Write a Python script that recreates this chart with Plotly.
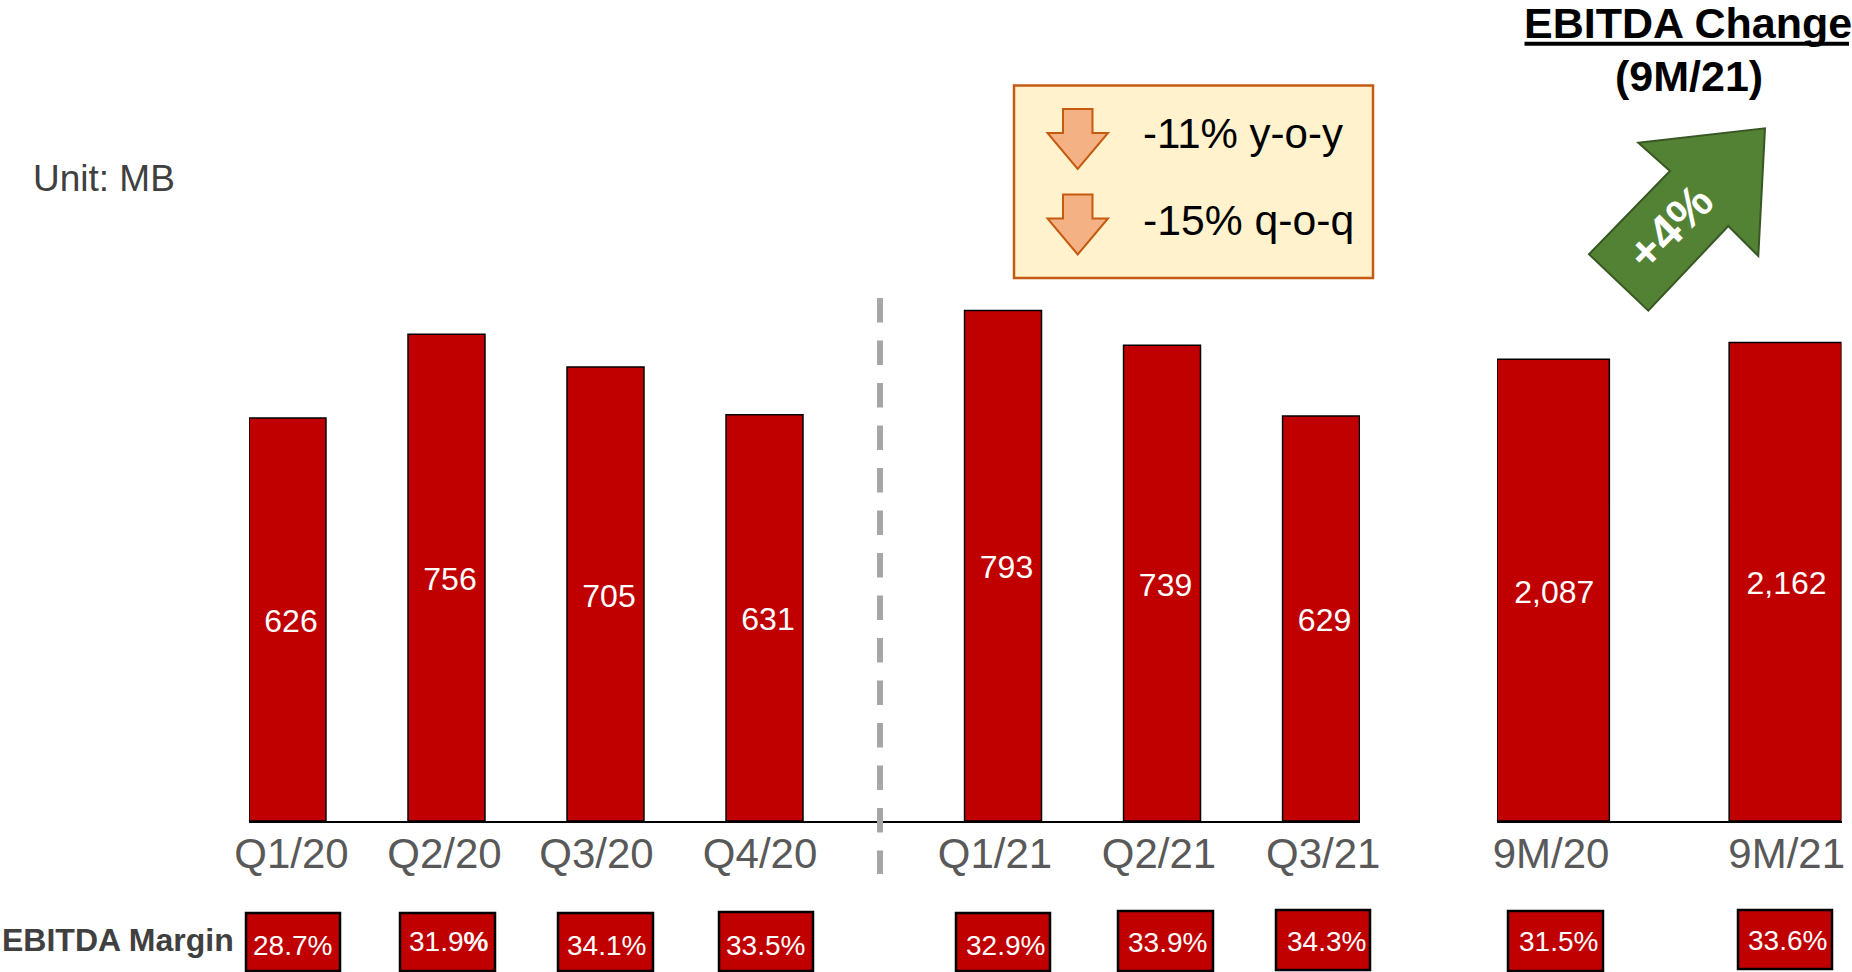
import plotly.graph_objects as go

# ---------- data ----------
quarters = ["Q1/20", "Q2/20", "Q3/20", "Q4/20", "Q1/21", "Q2/21", "Q3/21"]
quarter_values = [626, 756, 705, 631, 793, 739, 629]
quarter_positions = [0, 1, 2, 3, 4.5, 5.5, 6.5]
quarter_tick_positions = [0.025, 0.987, 1.943, 2.972, 4.449, 5.481, 6.514]

periods = ["9M/20", "9M/21"]
period_values = [2087, 2162]
period_positions = [0, 1]
period_tick_positions = [-0.009, 1.006]

margin_labels = ["28.7%", "31.9<b>%</b>", "34.1%", "33.5%", "32.9%", "33.9%", "34.3%", "31.5%", "33.6%"]

# ---------- page geometry (pixels) ----------
W, H = 1852, 972
FONT = "Liberation Sans"
RED = "#C00000"
BASE = 821
TOP = 300
Q_SCALE = 0.6438   # px per unit, quarterly axis
P_SCALE = 0.2213   # px per unit, nine-month axis
TEXT_DROP = 4.5    # px, optical centring of the in-bar labels


def px(x):
    return x / W


def py(y):
    return 1 - y / H


def path(points):
    return "M" + "L".join(f"{px(x)},{py(y)}" for x, y in points) + "Z"


def note(text, x, y, size, color="#000000", **kw):
    return dict(text=text, x=px(x), y=py(y), xref="paper", yref="paper", showarrow=False,
                xanchor=kw.pop("xanchor", "center"), yanchor="middle",
                font=dict(family=FONT, size=size, color=color), **kw)


fig = go.Figure()

# quarterly bars
fig.add_trace(go.Bar(x=quarter_positions, y=quarter_values, width=0.484,
                     marker=dict(color=RED, line=dict(color="#000000", width=1.5)),
                     hoverinfo="skip", xaxis="x", yaxis="y"))
fig.add_trace(go.Scatter(x=[p + 0.022 for p in quarter_positions],
                         y=[v / 2 - TEXT_DROP / Q_SCALE for v in quarter_values],
                         text=[str(v) for v in quarter_values], mode="text", textposition="middle center",
                         textfont=dict(family=FONT, size=32, color="#FFFFFF"), cliponaxis=False,
                         hoverinfo="skip", xaxis="x", yaxis="y"))

# nine-month bars
fig.add_trace(go.Bar(x=period_positions, y=period_values, width=0.484,
                     marker=dict(color=RED, line=dict(color="#000000", width=1.5)),
                     hoverinfo="skip", xaxis="x2", yaxis="y2"))
fig.add_trace(go.Scatter(x=[p + 0.005 for p in period_positions],
                         y=[v / 2 - TEXT_DROP / P_SCALE for v in period_values],
                         text=[f"{v:,}" for v in period_values], mode="text", textposition="middle center",
                         textfont=dict(family=FONT, size=32, color="#FFFFFF"), cliponaxis=False,
                         hoverinfo="skip", xaxis="x2", yaxis="y2"))

shapes = []
annotations = []

# divider between the two years
shapes.append(dict(type="line", xref="paper", yref="paper", x0=px(880), x1=px(880), y0=py(298), y1=py(874),
                   line=dict(color="#A6A6A6", width=6, dash="24.5px,18px"), layer="above"))

# callout box
shapes.append(dict(type="rect", xref="paper", yref="paper", x0=px(1014), x1=px(1373), y0=py(85.5), y1=py(278),
                   fillcolor="#FFF2CC", line=dict(color="#C55A11", width=2.5), layer="above"))
for dy in (0, 85.5):
    shapes.append(dict(type="path", xref="paper", yref="paper",
                       path=path([(1063, 109 + dy), (1092.5, 109 + dy), (1092.5, 133 + dy), (1108, 133 + dy),
                                  (1077.7, 169 + dy), (1047.5, 133 + dy), (1063, 133 + dy)]),
                       fillcolor="#F4B183", line=dict(color="#C55A11", width=2), layer="above"))
annotations.append(note("-11% y-o-y", 1141, 133.5, 42, xanchor="left"))
annotations.append(note("-15% q-o-q", 1141, 219.5, 42.7, xanchor="left"))

# green change arrow
shapes.append(dict(type="path", xref="paper", yref="paper",
                   path=path([(1589, 254.3), (1670, 171), (1638.3, 142.7), (1765, 128.3),
                              (1758.3, 256), (1728.3, 226), (1648.3, 310.7)]),
                   fillcolor="#548235", line=dict(color="#385723", width=2), layer="above"))
annotations.append(note("<b>+4%</b>", 1670, 228, 48, "#FFFFFF", textangle=-45))

# headings
annotations.append(note("<b>EBITDA Change</b>", 1687.5, 23, 43))
shapes.append(dict(type="line", xref="paper", yref="paper", x0=px(1524.5), x1=px(1849), y0=py(43.7), y1=py(43.7),
                   line=dict(color="#000000", width=4), layer="above"))
annotations.append(note("<b>(9M/21)</b>", 1689, 76, 43))
annotations.append(note("Unit: MB", 31, 178, 37, "#404040", xanchor="left"))
annotations.append(note("<b>EBITDA Margin</b>", 0, 940, 32, "#404040", xanchor="left"))

# margin boxes: (x0, x1, y0, y1, text x, text y)
margin_boxes = [
    (246, 340, 913, 971, 292, 945), (400, 495, 913, 971, 449, 941), (558, 653, 913, 971, 606, 945),
    (719, 813, 912, 971, 765, 945), (956, 1050, 913, 971, 1005, 945), (1118, 1213, 911, 971, 1167, 942),
    (1276, 1370, 910, 970, 1326, 941), (1508, 1603, 911, 971, 1558, 941), (1738, 1832, 910, 969, 1787, 940),
]
for label, (x0, x1, y0, y1, tx, ty) in zip(margin_labels, margin_boxes):
    shapes.append(dict(type="rect", xref="paper", yref="paper", x0=px(x0), x1=px(x1), y0=py(y0), y1=py(y1),
                       fillcolor=RED, line=dict(color="#000000", width=2.5), layer="above"))
    annotations.append(note(label, tx, ty, 28, "#FFFFFF"))

tick_font = dict(family=FONT, size=42, color="#595959")
common_x = dict(showgrid=False, zeroline=False, showline=True, linecolor="#000000", linewidth=2,
                ticks="", tickmode="array", tickfont=tick_font, tickangle=0, ticklabelstandoff=-5)
common_y = dict(visible=False, showgrid=False, zeroline=False, domain=[py(BASE), py(TOP)])

fig.update_layout(
    width=W, height=H, margin=dict(l=0, r=0, t=0, b=0, pad=0, autoexpand=False),
    paper_bgcolor="#FFFFFF", plot_bgcolor="#FFFFFF", showlegend=False, barmode="overlay",
    xaxis=dict(common_x, domain=[px(249), px(1360)], range=[-0.242, 6.745], anchor="y",
               tickvals=quarter_tick_positions, ticktext=quarters),
    yaxis=dict(common_y, range=[0, (BASE - TOP) / Q_SCALE], anchor="x"),
    xaxis2=dict(common_x, domain=[px(1497), px(1841.5)], range=[-0.242, 1.242], anchor="y2",
                tickvals=period_tick_positions, ticktext=periods),
    yaxis2=dict(common_y, range=[0, (BASE - TOP) / P_SCALE], anchor="x2"),
    shapes=shapes, annotations=annotations,
)

fig.write_html("out.html", config={"displayModeBar": False},
               post_script="document.body.style.margin='0';document.body.style.overflow='hidden';")
